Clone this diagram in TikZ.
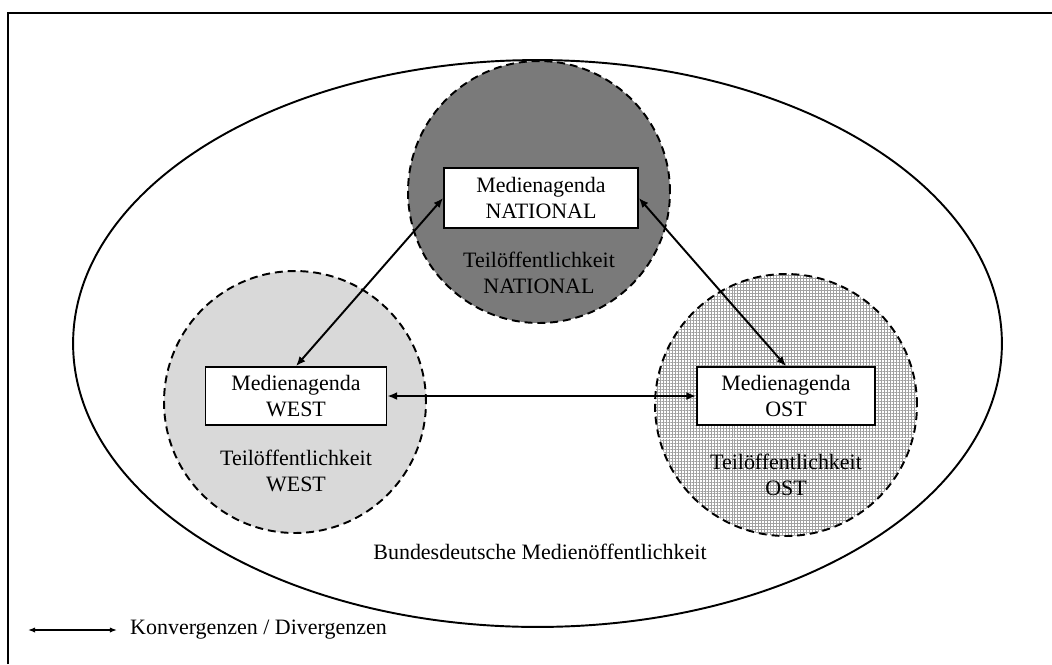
\documentclass[tikz,border=0pt]{standalone}
\usepackage{fontspec}
\setmainfont{Liberation Serif}
\usepackage{tikz}
\usetikzlibrary{arrows.meta,positioning,patterns.meta}
\definecolor{natgray}{HTML}{7A7A7A}
\definecolor{westgray}{HTML}{D9D9D9}
\definecolor{gridgray}{HTML}{A0A0A0}
\tikzset{
  teilkreis/.style={circle, draw, dashed, dash pattern=on 4.5pt off 2.8pt,
    line width=1.1pt, minimum size=5.24cm, inner sep=0pt},
  agendabox/.style={draw, fill=white, line width=1pt, align=center,
    minimum height=1.16cm, inner sep=1pt, font=\fontsize{12.5}{15}\selectfont},
  teiltext/.style={align=center, font=\fontsize{12.5}{15}\selectfont},
  arr/.style={{Latex[length=5.5pt,width=4.5pt]}-{Latex[length=5.5pt,width=4.5pt]}, line width=1.1pt},
  legarr/.style={{Latex[length=4pt,width=3pt]}-{Latex[length=4pt,width=3pt]}, line width=0.8pt}
}

\begin{document}
\begin{tikzpicture}[x=0.02cm, y=-0.02cm]
    \useasboundingbox (0,0) rectangle (1052,664);
    % frame (only top and left edge visible)
    \draw[line width=1.3pt] (8,664) -- (8,13) -- (1052,13);
    % bundesdeutsche Medienoeffentlichkeit
    \draw[line width=1.1pt] (537.5,343.5) ellipse [x radius=9.29cm, y radius=5.67cm];
    \node[teiltext] (bund) at (540,552) {Bundesdeutsche Medienöffentlichkeit};
    % Teiloeffentlichkeiten
    \node[teilkreis, fill=natgray] (kreisnat) at (539,192) {};
    \node[teilkreis, fill=westgray] (kreiswest) at (295,402) {};
    \node[teilkreis, preaction={fill=white},
      pattern={Hatch[angle=0, distance=1.7pt, line width=0.3pt]}, pattern color=gridgray] (kreisost) at (786,405) {};
    \node[teiltext] (teilnat) at (539,273) {Teilöffentlichkeit\\NATIONAL};
    \node[teiltext] (teilwest) at (296,471) {Teilöffentlichkeit\\WEST};
    \node[teiltext] (teilost) at (786,475) {Teilöffentlichkeit\\OST};
    % Medienagenden
    \node[agendabox, minimum width=3.88cm, minimum height=1.2cm] (nat) at (541,198) {Medienagenda\\NATIONAL};
    \node[agendabox, minimum width=3.62cm] (west) at (296,396) {Medienagenda\\WEST};
    \node[agendabox, minimum width=3.56cm] (ost) at (786,396) {Medienagenda\\OST};
    \draw[arr] (nat.west) -- (west.north);
    \draw[arr] (nat.east) -- (ost.north);
    \draw[arr] (west.east) -- (ost.west);
    % legend
    \coordinate (legA) at (28,630);
    \coordinate (legB) at (117,630);
    \draw[legarr] (legA) -- (legB);
    \node[teiltext, anchor=west, right=4pt of legB] (legtext) {Konvergenzen / Divergenzen};
\end{tikzpicture}
\end{document}
